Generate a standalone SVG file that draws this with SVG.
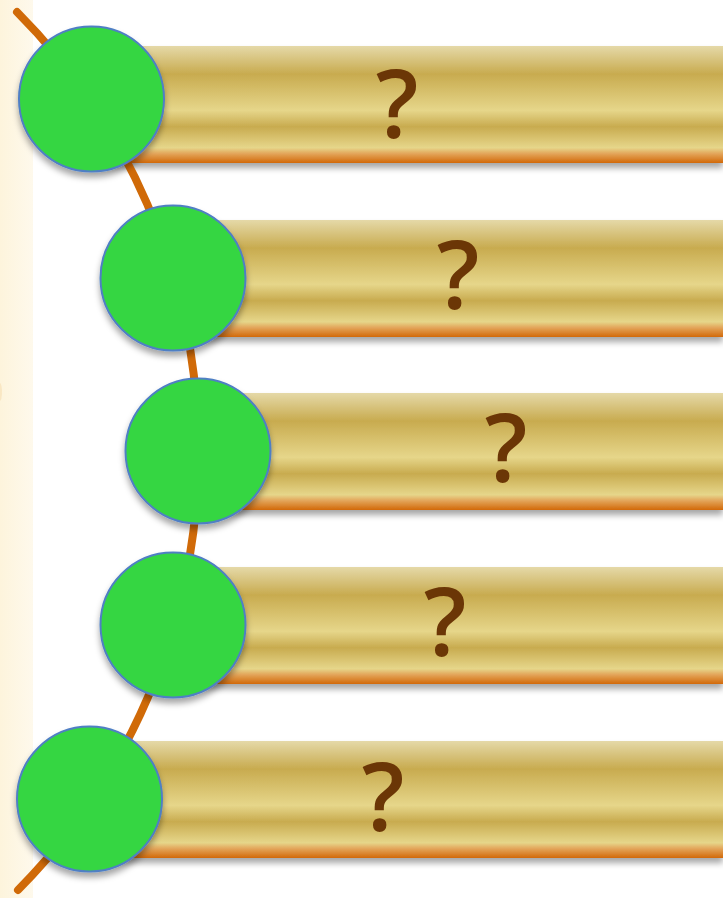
<svg xmlns="http://www.w3.org/2000/svg" width="723" height="898" viewBox="0 0 723 898">
  <defs>
    <linearGradient id="barGrad" x1="0" y1="0" x2="0" y2="1">
      <stop offset="0" stop-color="#e5d9a8"/>
      <stop offset="0.24" stop-color="#c8ab4f"/>
      <stop offset="0.55" stop-color="#e6d68a"/>
      <stop offset="0.69" stop-color="#c8ab4f"/>
      <stop offset="0.87" stop-color="#e6d68a"/>
      <stop offset="0.92" stop-color="#e3a55a"/>
      <stop offset="1" stop-color="#d2690a"/>
    </linearGradient>
    <linearGradient id="stripGrad" x1="0" y1="0" x2="1" y2="0">
      <stop offset="0" stop-color="#fdf4dc"/>
      <stop offset="1" stop-color="#fef9ec"/>
    </linearGradient>
    <filter id="shadow" x="-10%" y="-10%" width="120%" height="130%">
      <feDropShadow dx="0" dy="5" stdDeviation="3" flood-color="#000" flood-opacity="0.35"/>
    </filter>
    <style>
      .bar { fill: url(#barGrad); filter: url(#shadow); }
      .node { fill: #36d642; stroke: #4f7fc4; stroke-width: 2; filter: url(#shadow); }
      .q { font-family: "Open Sans", "Liberation Sans", sans-serif; font-size: 94px; font-weight: 600; fill: #6b3606; text-anchor: middle; }
      .arc { fill: none; stroke: #d06a08; stroke-width: 8; stroke-linecap: round; }
    </style>
  </defs>
  <rect x="0" y="0" width="723" height="898" fill="#ffffff"/>
  <rect x="0" y="0" width="33" height="898" fill="url(#stripGrad)"/>
  <ellipse cx="0" cy="392" rx="2" ry="9" fill="#f3c98a" opacity="0.3"/>

  <g id="bars">
    <rect class="bar" x="92" y="46" width="631" height="117"/>
    <rect class="bar" x="173" y="220" width="550" height="117"/>
    <rect class="bar" x="198" y="393" width="525" height="117"/>
    <rect class="bar" x="173" y="567" width="550" height="117"/>
    <rect class="bar" x="90" y="741" width="633" height="117"/>
  </g>

  <g id="connectors">
    <path class="arc" d="M 17 12 A 623 623 0 0 1 18 890"/>
  </g>

  <g id="node1">
    <circle class="node" cx="91.5" cy="99" r="72.5"/>
    <text class="q" x="397" y="138">?</text>
  </g>
  <g id="node2">
    <circle class="node" cx="173" cy="278" r="72.5"/>
    <text class="q" x="458" y="309">?</text>
  </g>
  <g id="node3">
    <circle class="node" cx="198" cy="451" r="72.5"/>
    <text class="q" x="506" y="482">?</text>
  </g>
  <g id="node4">
    <circle class="node" cx="173" cy="625" r="72.5"/>
    <text class="q" x="445" y="656">?</text>
  </g>
  <g id="node5">
    <circle class="node" cx="89.5" cy="799" r="72.5"/>
    <text class="q" x="383" y="831">?</text>
  </g>
</svg>
